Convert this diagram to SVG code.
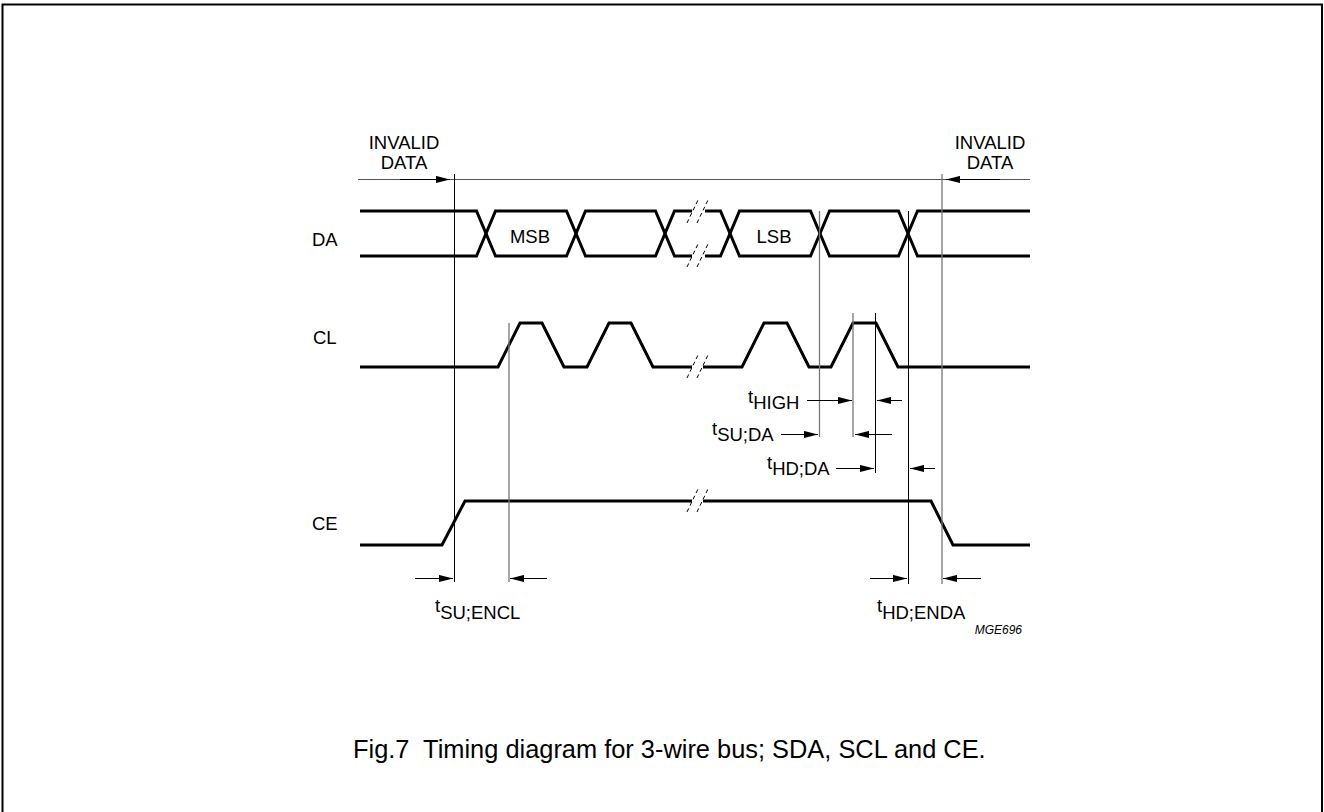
<svg xmlns="http://www.w3.org/2000/svg" width="1324" height="812" viewBox="0 0 1324 812">
<style>
text{font-family:"Liberation Sans",Arial,sans-serif;fill:#000}
.lbl{font-size:18.5px}
.cap{font-size:25.4px}
.sig{fill:none;stroke:#000;stroke-width:3;stroke-linejoin:miter}
.brk{fill:none;stroke:#000;stroke-width:1;stroke-dasharray:4 3}
.vl{stroke:#000;stroke-width:1}
.vg{stroke:#777;stroke-width:1.3}
.dim{stroke:#000;stroke-width:1;fill:none}
</style>
<defs>
<marker id="ah" markerUnits="userSpaceOnUse" markerWidth="14" markerHeight="8" refX="14" refY="4" orient="auto" viewBox="0 0 14 8">
<path d="M0,0.4 L14,4 L0,7.6 z" fill="#000"/>
</marker>
</defs>
<rect x="2.5" y="4.5" width="1319.5" height="820" fill="#fff" stroke="#000" stroke-width="2"/>

<g id="frame-arrow">
<line x1="358" y1="179.5" x2="1030" y2="179.5" stroke="#555" stroke-width="1"/>
<line x1="400" y1="179.5" x2="450" y2="179.5" class="dim" marker-end="url(#ah)"/>
<line x1="1000" y1="179.5" x2="946" y2="179.5" class="dim" marker-end="url(#ah)"/>
<text class="lbl" x="404" y="149" text-anchor="middle">INVALID</text>
<text class="lbl" x="404" y="169" text-anchor="middle">DATA</text>
<text class="lbl" x="990" y="149" text-anchor="middle">INVALID</text>
<text class="lbl" x="990" y="169" text-anchor="middle">DATA</text>
</g>

<g id="DA">
<text class="lbl" x="312" y="246">DA</text>
<path class="sig" d="M360,211 H476.5 L495.5,256 H566.5 L585.5,211 H655.5 L674.5,256 H692 M705,256 H720.5 L739.5,211 H810.5 L829.5,256 H898.5 L917.5,211 H1030"/>
<path class="sig" d="M360,256 H476.5 L495.5,211 H566.5 L585.5,256 H655.5 L674.5,211 H692 M705,211 H720.5 L739.5,256 H810.5 L829.5,211 H898.5 L917.5,256 H1030"/>
<path class="brk" d="M687,223 L698,200 M697,223 L708,200 M687,267 L698,244 M697,267 L708,244"/>
<text class="lbl" x="530" y="243" text-anchor="middle">MSB</text>
<text class="lbl" x="774" y="243" text-anchor="middle">LSB</text>
</g>

<g id="CL">
<text class="lbl" x="313" y="344">CL</text>
<path class="sig" d="M360,367 H498 L520,323 H542 L564,367 H587 L609,323 H631 L653,367 H692 M703,367 H742 L764,323 H787 L809,367 H831 L853,323 H876 L898,367 H1030"/>
<path class="brk" d="M687,378 L698,355 M697,378 L708,355"/>
</g>

<g id="CE">
<text class="lbl" x="312" y="530">CE</text>
<path class="sig" d="M360,545 H442 L465,501 H692 M703,501 H931 L953,545 H1030"/>
<path class="brk" d="M687,512 L698,489 M697,512 L708,489"/>
</g>

<g id="connectors">
<line class="vl" x1="454.5" y1="174" x2="454.5" y2="582"/>
<line class="vg" x1="509" y1="323" x2="509" y2="582"/>
<line class="vg" x1="819.5" y1="211" x2="819.5" y2="437"/>
<line class="vg" x1="853" y1="313" x2="853" y2="437"/>
<line class="vl" x1="875.5" y1="313" x2="875.5" y2="473"/>
<line class="vl" x1="908.5" y1="211" x2="908.5" y2="584"/>
<line class="vg" x1="942" y1="174" x2="942" y2="584"/>

<line class="dim" x1="807" y1="400.5" x2="852" y2="400.5" marker-end="url(#ah)"/>
<line class="dim" x1="902" y1="400.5" x2="877" y2="400.5" marker-end="url(#ah)"/>
<line class="dim" x1="781" y1="434.5" x2="818" y2="434.5" marker-end="url(#ah)"/>
<line class="dim" x1="892" y1="434.5" x2="855" y2="434.5" marker-end="url(#ah)"/>
<line class="dim" x1="836" y1="468.5" x2="874" y2="468.5" marker-end="url(#ah)"/>
<line class="dim" x1="935" y1="468.5" x2="910" y2="468.5" marker-end="url(#ah)"/>

<line class="dim" x1="415" y1="578.5" x2="453" y2="578.5" marker-end="url(#ah)"/>
<line class="dim" x1="547" y1="578.5" x2="510" y2="578.5" marker-end="url(#ah)"/>
<line class="dim" x1="870" y1="578.5" x2="907" y2="578.5" marker-end="url(#ah)"/>
<line class="dim" x1="981" y1="578.5" x2="943" y2="578.5" marker-end="url(#ah)"/>
</g>

<g id="timing-labels">
<text class="lbl" x="748" y="403">t<tspan dy="6">HIGH</tspan></text>
<text class="lbl" x="712" y="435">t<tspan dy="6">SU;DA</tspan></text>
<text class="lbl" x="767" y="469">t<tspan dy="6">HD;DA</tspan></text>
<text class="lbl" x="435" y="612">t<tspan dy="7">SU;ENCL</tspan></text>
<text class="lbl" x="877" y="612">t<tspan dy="7">HD;ENDA</tspan></text>
<text x="1022" y="634" text-anchor="end" font-size="12" font-style="italic">MGE696</text>
</g>

<text class="cap" x="353" y="758" xml:space="preserve">Fig.7  Timing diagram for 3-wire bus; SDA, SCL and CE.</text>
</svg>
